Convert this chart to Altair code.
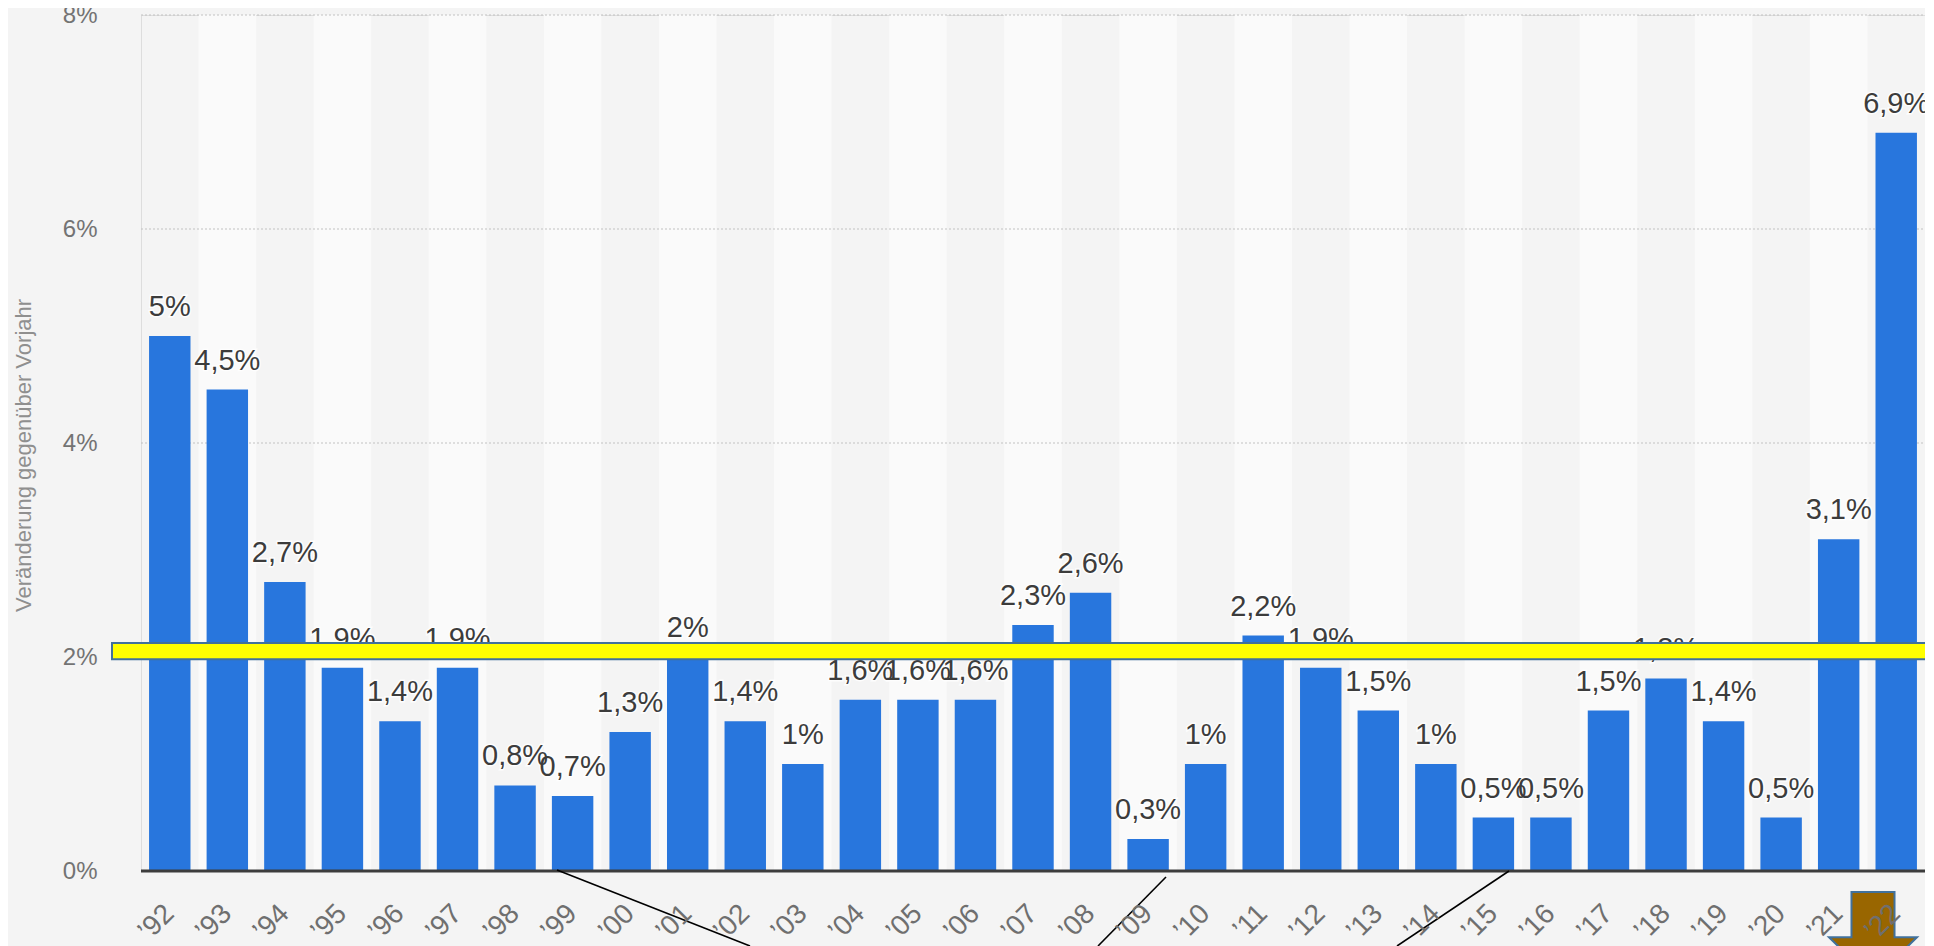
import altair as alt
import pandas as pd

FONT = "Liberation Sans"

# ---- data ----
years = ["’92", "’93", "’94", "’95", "’96", "’97", "’98", "’99", "’00", "’01",
         "’02", "’03", "’04", "’05", "’06", "’07", "’08", "’09", "’10", "’11",
         "’12", "’13", "’14", "’15", "’16", "’17", "’18", "’19", "’20", "’21", "’22"]
values = [5, 4.5, 2.7, 1.9, 1.4, 1.9, 0.8, 0.7, 1.3, 2,
          1.4, 1, 1.6, 1.6, 1.6, 2.3, 2.6, 0.3, 1, 2.2,
          1.9, 1.5, 1, 0.5, 0.5, 1.5, 1.8, 1.4, 0.5, 3.1, 6.9]
labels = [f"{v:g}".replace(".", ",") + "%" for v in values]
y_ticks = [0, 2, 4, 6, 8]
y_title = "Veränderung gegenüber Vorjahr"

# annotation overlay (yellow band in data units)
band_range = [1.98, 2.13]

W, H = 1784, 856

df = pd.DataFrame({"year": years, "value": values, "label": labels})
stripe_df = df.iloc[1::2]
grid_df = pd.DataFrame({"tick": y_ticks[1:]})
one = pd.DataFrame({"a": [0]})

x_scale = alt.Scale(domain=years, paddingInner=0.28, paddingOuter=0.14)
y_scale = alt.Scale(domain=[0, 8], nice=False, zero=True)

x_axis = alt.Axis(title=None, labelAngle=-45, labelAlign="right", labelBaseline="middle",
                  labelPadding=38, labelFontSize=28, labelColor="#6f6f6f", labelFont=FONT,
                  domain=False, ticks=False, grid=False, labelOverlap=False)
y_axis = alt.Axis(values=y_ticks, labelExpr="datum.value + '%'", title=y_title,
                  grid=False, domain=False, ticks=False, labelPadding=44,
                  labelFontSize=24, labelColor="#737373", labelFont=FONT,
                  titleFont=FONT, titleFontSize=22, titleFontWeight="normal",
                  titleColor="#8f8f8f", titleAngle=270, titleX=-118, titleY=440,
                  titleAlign="center", titleBaseline="middle")

X = alt.X("year:N", scale=x_scale, axis=x_axis, sort=years)

stripes = alt.Chart(stripe_df).mark_rect(
    width=alt.RelativeBandSize(band=1.389), color="#fafafa"
).encode(x=X, y=alt.Y(datum=8, scale=y_scale, axis=y_axis), y2=alt.Y2(datum=0))

grid = alt.Chart(grid_df).mark_rule(
    color="#c2c2c2", strokeDash=[2, 2], strokeWidth=1
).encode(y=alt.Y("tick:Q", scale=y_scale, axis=y_axis), x=alt.value(0), x2=alt.value(W))

bars = alt.Chart(df).mark_bar(color="#2876dd").encode(
    x=X, y=alt.Y("value:Q", scale=y_scale, axis=y_axis)
)

baseline = alt.Chart(one).mark_rule(color="#3d3d3d", strokeWidth=3).encode(
    y=alt.Y(datum=0, scale=y_scale, axis=y_axis), x=alt.value(0), x2=alt.value(W)
)

halo = alt.Chart(df).mark_text(
    dy=-20, fontSize=29, font=FONT, baseline="alphabetic", color="#ffffff",
    stroke="#ffffff", strokeWidth=3, opacity=0.85
).encode(x=X, y=alt.Y("value:Q", scale=y_scale, axis=y_axis), text="label:N")

text = alt.Chart(df).mark_text(
    dy=-20, fontSize=29, font=FONT, baseline="alphabetic", color="#3c3c3c"
).encode(x=X, y=alt.Y("value:Q", scale=y_scale, axis=y_axis), text="label:N")

yellow = alt.Chart(one).mark_rect(
    fill="#ffff00", stroke="#41719c", strokeWidth=2
).encode(
    x=alt.value(-29), x2=alt.value(W + 30),
    y=alt.Y(datum=band_range[1], scale=y_scale, axis=y_axis),
    y2=alt.Y2(datum=band_range[0]),
)

# pointer lines (pixel positions in the plot frame)
pointer_lines = [
    (416, 855, 609, 931),
    (1025, 862, 957, 931),
    (1368, 856, 1256, 931),
]
line_layers = [
    alt.Chart(one).mark_rule(color="#000000", strokeWidth=1.6).encode(
        x=alt.value(a), y=alt.value(b), x2=alt.value(c), y2=alt.value(d)
    )
    for a, b, c, d in pointer_lines
]

ARROW = "M-0.489,-1 L0.489,-1 L0.489,0.03 L1,0.03 L0,1 L-1,0.03 L-0.489,0.03 Z"
arrow = alt.Chart(one).mark_point(
    shape=ARROW, size=88 * 88, filled=True, fill="#996600", stroke="#41719c",
    strokeWidth=2, opacity=1
).encode(x=alt.value(1732), y=alt.value(921))

chart = alt.layer(
    stripes, grid, bars, baseline, halo, text, yellow, *line_layers, arrow
).properties(
    width=W, height=H,
    autosize=alt.AutoSizeParams(type="none"),
    padding={"left": 133, "top": 7, "right": 0, "bottom": 75},
    background="#f4f4f4",
).configure_view(stroke=None).configure(font=FONT)

chart.save("out.html", embed_options={"renderer": "svg", "actions": False})
